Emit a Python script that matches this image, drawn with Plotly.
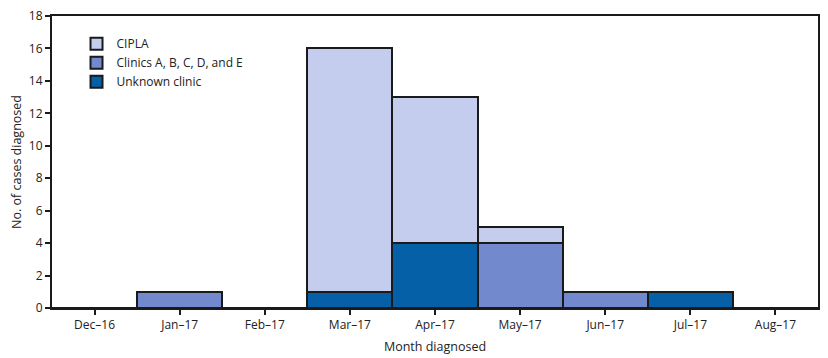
import plotly.graph_objects as go

months = ["Dec\u201316", "Jan\u201317", "Feb\u201317", "Mar\u201317", "Apr\u201317",
          "May\u201317", "Jun\u201317", "Jul\u201317", "Aug\u201317"]
unknown_clinic = [0, 0, 0, 1, 4, 0, 0, 1, 0]
clinics_abcde = [0, 1, 0, 0, 0, 4, 1, 0, 0]
cipla = [0, 0, 0, 15, 9, 1, 0, 0, 0]

line = dict(color="#1a1a1a", width=2)
font = "Open Sans, Liberation Sans, sans-serif"

fig = go.Figure()
# stacking order bottom-to-top: Unknown, Clinics, CIPLA
fig.add_bar(x=months, y=unknown_clinic, name="Unknown clinic",
            marker=dict(color="#0560a8", line=line))
fig.add_bar(x=months, y=clinics_abcde, name="Clinics A, B, C, D, and E",
            marker=dict(color="#7389cd", line=line))
fig.add_bar(x=months, y=cipla, name="CIPLA",
            marker=dict(color="#c5cdee", line=line))

fig.update_layout(
    width=828, height=358,
    barmode="stack", bargap=0,
    plot_bgcolor="white", paper_bgcolor="white",
    margin=dict(l=44, r=18, t=8, b=58, autoexpand=False),
    font=dict(family=font, size=12, color="#222"),
    legend=dict(x=0.032, y=0.955, xanchor="left", yanchor="top",
                traceorder="reversed",
                bgcolor="rgba(0,0,0,0)",
                font=dict(size=12), itemwidth=30, tracegroupgap=0),
    showlegend=True,
)
fig.update_xaxes(
    title=dict(text="Month diagnosed", font=dict(size=12.5), standoff=10),
    automargin=False,
    showline=True, linecolor="#1a1a1a", linewidth=2, mirror=True,
    ticks="outside", ticklen=5, tickcolor="#1a1a1a", tickwidth=1.5,
    showgrid=False, tickfont=dict(size=12), ticklabeloverflow="allow",
)
fig.update_yaxes(
    title=dict(text="No. of cases diagnosed", font=dict(size=12.5), standoff=8),
    automargin=False,
    range=[0, 18], dtick=2,
    showline=True, linecolor="#1a1a1a", linewidth=2, mirror=True,
    ticks="outside", ticklen=5, tickcolor="#1a1a1a", tickwidth=1.5,
    showgrid=False, zeroline=False, tickfont=dict(size=12),
    ticklabeloverflow="allow",
)

fig.write_html("out.html")
